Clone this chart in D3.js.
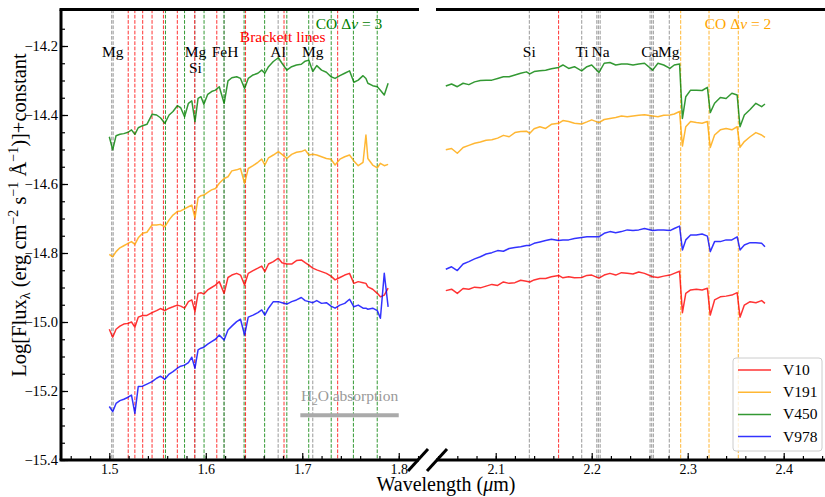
<!DOCTYPE html>
<html>
<head>
<meta charset="utf-8">
<script src="https://cdn.jsdelivr.net/npm/d3@7"></script>
<style>
  body { margin: 0; background: #fff; }
  svg { display: block; font-family: "Liberation Serif", "Times New Roman", serif; }
</style>
</head>
<body>
<svg id="chart" width="825" height="497"></svg>
<script>
// ---- H band (left panel) ----
const waveH = [1.500,1.5035,1.507,1.511,1.515,1.5195,1.523,1.5265,1.530,1.5345,
  1.539,1.5443,1.549,1.553,1.5575,1.562,1.566,1.5705,1.574,1.578,
  1.582,1.5855,1.5888,1.592,1.595,1.598,1.602,1.606,1.610,1.614,
  1.619,1.623,1.627,1.632,1.636,1.6402,1.644,1.649,1.654,1.658,
  1.6612,1.665,1.670,1.6752,1.679,1.684,1.689,1.694,1.699,1.703,
  1.7068,1.7109,1.715,1.720,1.725,1.7298,1.734,1.739,1.744,1.749,
  1.7535,1.758,1.763,1.766,1.768,1.773,1.7778,1.781,1.785,1.789];

const fluxH_V450 = [-14.463,-14.501,-14.460,-14.456,-14.454,-14.450,-14.443,-14.456,-14.437,-14.431,
  -14.427,-14.398,-14.400,-14.408,-14.424,-14.400,-14.390,-14.373,-14.379,-14.405,
  -14.366,-14.359,-14.419,-14.352,-14.347,-14.369,-14.340,-14.332,-14.328,-14.318,
  -14.366,-14.301,-14.292,-14.289,-14.294,-14.323,-14.294,-14.284,-14.279,-14.270,
  -14.279,-14.260,-14.245,-14.234,-14.250,-14.270,-14.260,-14.255,-14.253,-14.244,
  -14.241,-14.274,-14.257,-14.270,-14.276,-14.289,-14.294,-14.286,-14.279,-14.272,
  -14.305,-14.299,-14.286,-14.294,-14.308,-14.315,-14.318,-14.328,-14.342,-14.308];

const fluxH_V191 = [-14.804,-14.811,-14.796,-14.785,-14.779,-14.772,-14.767,-14.775,-14.756,-14.743,
  -14.740,-14.719,-14.719,-14.717,-14.724,-14.704,-14.690,-14.680,-14.678,-14.672,
  -14.666,-14.661,-14.698,-14.640,-14.634,-14.632,-14.624,-14.617,-14.613,-14.598,
  -14.584,-14.579,-14.562,-14.559,-14.555,-14.598,-14.555,-14.547,-14.537,-14.528,
  -14.545,-14.524,-14.516,-14.506,-14.514,-14.526,-14.514,-14.508,-14.506,-14.501,
  -14.516,-14.514,-14.516,-14.521,-14.526,-14.528,-14.545,-14.528,-14.521,-14.516,
  -14.533,-14.547,-14.537,-14.458,-14.526,-14.545,-14.553,-14.540,-14.547,-14.543];

const fluxH_V10 = [-15.021,-15.044,-15.021,-15.012,-15.006,-15.004,-15.000,-15.015,-14.986,-14.981,
  -14.981,-14.973,-14.967,-14.961,-14.967,-14.960,-14.956,-14.951,-14.954,-14.960,
  -14.941,-14.936,-14.970,-14.917,-14.915,-14.919,-14.907,-14.900,-14.893,-14.883,
  -14.917,-14.871,-14.864,-14.859,-14.864,-14.893,-14.859,-14.851,-14.844,-14.838,
  -14.854,-14.832,-14.825,-14.815,-14.828,-14.832,-14.832,-14.822,-14.820,-14.828,
  -14.835,-14.844,-14.849,-14.854,-14.859,-14.867,-14.878,-14.871,-14.864,-14.859,
  -14.888,-14.883,-14.886,-14.888,-14.898,-14.905,-14.917,-14.927,-14.922,-14.902];

const fluxH_V978 = [-15.245,-15.260,-15.236,-15.228,-15.224,-15.218,-15.212,-15.265,-15.187,-15.186,
  -15.180,-15.173,-15.163,-15.157,-15.166,-15.151,-15.144,-15.134,-15.128,-15.125,
  -15.118,-15.102,-15.134,-15.081,-15.076,-15.073,-15.064,-15.057,-15.050,-15.038,
  -15.052,-15.023,-15.012,-14.999,-14.992,-15.038,-14.986,-14.980,-14.973,-14.965,
  -14.980,-14.960,-14.941,-14.941,-14.944,-14.948,-14.941,-14.936,-14.929,-14.938,
  -14.941,-14.944,-14.938,-14.946,-14.944,-14.954,-14.960,-14.951,-14.946,-14.934,
  -14.956,-14.951,-14.960,-14.960,-14.963,-14.960,-14.967,-14.989,-14.859,-14.956];

// ---- K band (right panel) ----
const waveK = [2.048,2.054,2.060,2.066,2.072,2.078,2.084,2.090,2.096,2.102,
  2.108,2.114,2.120,2.126,2.132,2.1355,2.140,2.146,2.152,2.158,
  2.1655,2.170,2.176,2.182,2.1895,2.195,2.200,2.2075,2.213,2.219,
  2.225,2.231,2.237,2.243,2.249,2.255,2.2635,2.269,2.275,2.2815,
  2.286,2.2915,2.2945,2.298,2.303,2.309,2.315,2.3205,2.3235,2.328,
  2.334,2.340,2.346,2.3515,2.3545,2.359,2.365,2.371,2.377,2.3805];

const fluxK_V450 = [-14.316,-14.310,-14.318,-14.308,-14.312,-14.304,-14.300,-14.299,-14.299,-14.294,
  -14.289,-14.289,-14.284,-14.279,-14.275,-14.281,-14.274,-14.272,-14.270,-14.266,
  -14.262,-14.255,-14.265,-14.260,-14.272,-14.260,-14.255,-14.277,-14.250,-14.248,
  -14.255,-14.252,-14.252,-14.255,-14.252,-14.250,-14.270,-14.250,-14.255,-14.265,
  -14.255,-14.252,-14.410,-14.347,-14.328,-14.328,-14.329,-14.320,-14.393,-14.366,
  -14.349,-14.352,-14.337,-14.342,-14.434,-14.400,-14.384,-14.366,-14.376,-14.368];

const fluxK_V191 = [-14.501,-14.497,-14.511,-14.494,-14.488,-14.482,-14.478,-14.473,-14.472,-14.467,
  -14.459,-14.463,-14.451,-14.448,-14.447,-14.453,-14.440,-14.434,-14.439,-14.427,
  -14.424,-14.416,-14.419,-14.424,-14.426,-14.420,-14.414,-14.422,-14.413,-14.410,
  -14.407,-14.403,-14.405,-14.403,-14.401,-14.399,-14.403,-14.405,-14.401,-14.400,
  -14.397,-14.390,-14.490,-14.434,-14.419,-14.422,-14.424,-14.419,-14.494,-14.458,
  -14.443,-14.439,-14.443,-14.434,-14.494,-14.477,-14.463,-14.451,-14.458,-14.465];

const fluxK_V978 = [-14.847,-14.840,-14.851,-14.832,-14.825,-14.817,-14.811,-14.803,-14.799,-14.793,
  -14.795,-14.787,-14.784,-14.782,-14.778,-14.778,-14.772,-14.768,-14.764,-14.760,
  -14.764,-14.762,-14.762,-14.758,-14.755,-14.753,-14.753,-14.753,-14.743,-14.738,
  -14.741,-14.738,-14.733,-14.735,-14.733,-14.729,-14.735,-14.733,-14.733,-14.735,
  -14.729,-14.722,-14.791,-14.762,-14.748,-14.748,-14.745,-14.751,-14.796,-14.767,
  -14.767,-14.762,-14.762,-14.753,-14.791,-14.777,-14.770,-14.770,-14.772,-14.782];

const fluxK_V10 = [-14.909,-14.905,-14.917,-14.903,-14.905,-14.899,-14.901,-14.896,-14.891,-14.894,
  -14.884,-14.888,-14.886,-14.879,-14.882,-14.884,-14.878,-14.874,-14.874,-14.869,
  -14.865,-14.872,-14.869,-14.872,-14.871,-14.865,-14.864,-14.873,-14.864,-14.859,
  -14.864,-14.857,-14.859,-14.861,-14.855,-14.859,-14.869,-14.871,-14.867,-14.864,
  -14.859,-14.853,-14.973,-14.917,-14.907,-14.905,-14.907,-14.902,-14.980,-14.936,
  -14.927,-14.925,-14.922,-14.915,-14.986,-14.951,-14.941,-14.944,-14.938,-14.946];

// Star names and their colours, in legend order
const stars = ["V10", "V191", "V450", "V978"];
const starColors = ["#ff0000", "#ffa500", "#008000", "#0000ff"];
const fluxH = [fluxH_V10, fluxH_V191, fluxH_V450, fluxH_V978];
const fluxK = [fluxK_V10, fluxK_V191, fluxK_V450, fluxK_V978];

// Line identifications (micron)
const metalH = [1.5025, 1.5040, 1.5888, 1.6190, 1.6750, 1.7109];
const brackettH = [1.5196, 1.5265, 1.5346, 1.5443, 1.5561, 1.5705, 1.5885, 1.6114, 1.6412, 1.6811, 1.7367];
const coH = [1.5582, 1.5780, 1.5982, 1.6189, 1.6397, 1.6610, 1.6840, 1.7067, 1.7300, 1.7530, 1.7777];
const metalK = [2.1350, 2.1896, 2.2053, 2.2069, 2.2088, 2.2608, 2.2625, 2.2642, 2.2808];
const brackettK = [2.1655];
const coK = [2.2927, 2.3222, 2.3527];

// Line labels: text, wavelength, flux of the baseline
const labelsH = [["Mg", 1.5035, -14.232], ["Mg", 1.5893, -14.232], ["Si", 1.5893, -14.278],
  ["FeH", 1.6199, -14.232], ["Al", 1.6749, -14.232], ["Mg", 1.7109, -14.232]];
const labelsK = [["Si", 2.1350, -14.232], ["Ti", 2.1899, -14.232], ["Na", 2.2092, -14.232],
  ["Ca", 2.2607, -14.232], ["Mg", 2.2803, -14.232]];

// Axis ticks
const ticksH = [1.5, 1.6, 1.7, 1.8];
const ticksK = [2.1, 2.2, 2.3, 2.4];
const ticksY = [-15.4, -15.2, -15.0, -14.8, -14.6, -14.4, -14.2];
const water = [1.698, 1.800];

// ---- layout ----
const svg = d3.select("#chart");
const plotTop = 9.5, plotBottom = 460;
const xH = d3.scaleLinear().domain([1.45, 1.821]).range([61.07, 419]);
const xK = d3.scaleLinear().domain([2.038, 2.45]).range([436.2, 831.7]);
const y = d3.scaleLinear().domain([-15.4, -14.2]).range([460, 46]);

const defs = svg.append("defs");
defs.append("clipPath").attr("id", "clipH").append("rect")
  .attr("x", 61).attr("y", plotTop).attr("width", 419 - 61).attr("height", plotBottom - plotTop);
defs.append("clipPath").attr("id", "clipK").append("rect")
  .attr("x", 436).attr("y", plotTop).attr("width", 400).attr("height", plotBottom - plotTop);

function panel(x, clipId, groups, waves, fluxes, labels) {
  const g = svg.append("g").attr("clip-path", `url(#${clipId})`);
  // dashed identification lines
  groups.forEach(([list, color]) => {
    g.selectAll(null).data(list).enter().append("line")
      .attr("x1", d => x(d)).attr("x2", d => x(d))
      .attr("y1", plotTop).attr("y2", plotBottom)
      .attr("stroke", color).attr("stroke-width", 1)
      .attr("stroke-dasharray", "3.7,1.6").attr("opacity", 0.8);
  });
  // spectra
  const line = d3.line().x(d => x(d[0])).y(d => y(d[1]));
  fluxes.forEach((f, i) => {
    g.append("path").datum(waves.map((w, j) => [w, f[j]]))
      .attr("d", line).attr("fill", "none")
      .attr("stroke", starColors[i]).attr("stroke-opacity", 0.8)
      .attr("stroke-width", 1.5).attr("stroke-linejoin", "round");
  });
  // labels
  svg.append("g").selectAll("text").data(labels).enter().append("text")
    .attr("x", d => x(d[1])).attr("y", d => y(d[2]))
    .attr("text-anchor", "middle").attr("font-size", 15.5).attr("fill", "#000")
    .text(d => d[0]);
  return g;
}

panel(xH, "clipH", [[metalH, "#808080"], [brackettH, "#ff0000"], [coH, "#008000"]],
  waveH, fluxH, labelsH);
panel(xK, "clipK", [[metalK, "#808080"], [brackettK, "#ff0000"], [coK, "#ffa500"]],
  waveK, fluxK, labelsK);

// Band labels
const bandLabel = (x, w, f, color, prefix, n) => {
  const t = svg.append("text").attr("x", x(w)).attr("y", y(f))
    .attr("text-anchor", "middle").attr("font-size", 15.5).attr("fill", color);
  t.append("tspan").text(prefix + " \u0394");
  t.append("tspan").attr("font-style", "italic").text("\u03bd");
  t.append("tspan").text(" = " + n);
};
bandLabel(xH, 1.7485, -14.151, "#008000", "CO", "3");
bandLabel(xK, 2.3524, -14.151, "#ffa500", "CO", "2");
svg.append("text").attr("x", xH(1.6797)).attr("y", y(-14.188))
  .attr("text-anchor", "middle").attr("font-size", 15.5).attr("fill", "#ff0000")
  .text("Brackett lines");

// H2O absorption band
svg.append("line").attr("x1", xH(water[0])).attr("x2", xH(water[1]))
  .attr("y1", y(-15.270)).attr("y2", y(-15.270))
  .attr("stroke", "#aaaaaa").attr("stroke-width", 4);
const h2o = svg.append("text").attr("x", xH((water[0] + water[1]) / 2)).attr("y", y(-15.229))
  .attr("text-anchor", "middle").attr("font-size", 15.5).attr("fill", "#999999");
h2o.append("tspan").text("H");
h2o.append("tspan").attr("font-size", 11).attr("dy", 4).text("2");
h2o.append("tspan").attr("dy", -4).text("O absorption");

// ---- axes ----
function xAxis(x, major, minor) {
  const gMin = svg.append("g").attr("transform", `translate(0,${plotBottom})`)
    .call(d3.axisBottom(x).tickValues(minor).tickSize(-4).tickFormat(""));
  const gMaj = svg.append("g").attr("transform", `translate(0,${plotBottom})`)
    .call(d3.axisBottom(x).tickValues(major).tickSize(-7).tickPadding(4).tickFormat(d3.format(".1f")));
  [gMin, gMaj].forEach(g => {
    g.select(".domain").remove();
    g.selectAll("line").attr("stroke", "#000").attr("stroke-width", 1.2);
    g.selectAll("text").attr("font-size", 14).attr("fill", "#000")
      .attr("font-family", "Liberation Serif, serif");
  });
}
xAxis(xH, ticksH, d3.range(73, 92).map(i => i / 50));
xAxis(xK, ticksK, d3.range(102, 123).map(i => i / 50));

const gyMin = svg.append("g").attr("transform", "translate(61,0)")
  .call(d3.axisLeft(y).tickValues(d3.range(-308, -282).map(i => i / 20)).tickSize(-4).tickFormat(""));
const gyMaj = svg.append("g").attr("transform", "translate(61,0)")
  .call(d3.axisLeft(y).tickValues(ticksY).tickSize(-7).tickPadding(3).tickFormat(d3.format(".1f")));
[gyMin, gyMaj].forEach(g => {
  g.select(".domain").remove();
  g.selectAll("line").attr("stroke", "#000").attr("stroke-width", 1.2);
  g.selectAll("text").attr("font-size", 14.5).attr("fill", "#000")
    .attr("font-family", "Liberation Serif, serif");
});

// spines
const spine = (x1, y1, x2, y2) => svg.append("line")
  .attr("x1", x1).attr("y1", y1).attr("x2", x2).attr("y2", y2)
  .attr("stroke", "#000").attr("stroke-width", 3);
spine(59.5, plotTop, 419, plotTop);
spine(59.5, plotBottom, 419, plotBottom);
spine(61, plotTop, 61, plotBottom);
spine(436, plotTop, 825, plotTop);
spine(436, plotBottom, 825, plotBottom);
// break marks on the shared wavelength axis
[418, 437].forEach(cx => spine(cx - 10, plotBottom + 11, cx + 10, plotBottom - 11));

// axis titles
const xt = svg.append("text").attr("x", 446).attr("y", 491)
  .attr("text-anchor", "middle").attr("font-size", 20).attr("fill", "#000");
xt.append("tspan").text("Wavelength (");
xt.append("tspan").attr("font-style", "italic").text("\u03bc");
xt.append("tspan").text("m)");

const yt = svg.append("text").attr("transform", "translate(26,215) rotate(-90)")
  .attr("text-anchor", "middle").attr("font-size", 20.5).attr("fill", "#000");
yt.append("tspan").text("Log[Flux");
yt.append("tspan").attr("font-size", 14).attr("dy", 4).text("\u03bb");
yt.append("tspan").attr("dy", -4).text(" (erg cm");
yt.append("tspan").attr("font-size", 14).attr("dy", -8).text("\u22122");
yt.append("tspan").attr("dy", 8).text(" s");
yt.append("tspan").attr("font-size", 14).attr("dy", -8).text("\u22121");
yt.append("tspan").attr("dy", 8).text(" \u00c5");
yt.append("tspan").attr("font-size", 14).attr("dy", -8).text("\u22121");
yt.append("tspan").attr("dy", 8).text(")]+constant");

// ---- legend ----
const lg = svg.append("g");
lg.append("rect").attr("x", 733).attr("y", 358).attr("width", 89).attr("height", 93)
  .attr("rx", 3).attr("fill", "#fff").attr("fill-opacity", 0.8)
  .attr("stroke", "#cccccc").attr("stroke-width", 1);
stars.forEach((s, i) => {
  const yy = 370 + i * 22.2;
  lg.append("line").attr("x1", 738).attr("x2", 771).attr("y1", yy).attr("y2", yy)
    .attr("stroke", starColors[i]).attr("stroke-opacity", 0.8).attr("stroke-width", 1.5);
  lg.append("text").attr("x", 783).attr("y", yy + 5).attr("font-size", 15.5)
    .attr("fill", "#000").text(s);
});
</script>
</body>
</html>
